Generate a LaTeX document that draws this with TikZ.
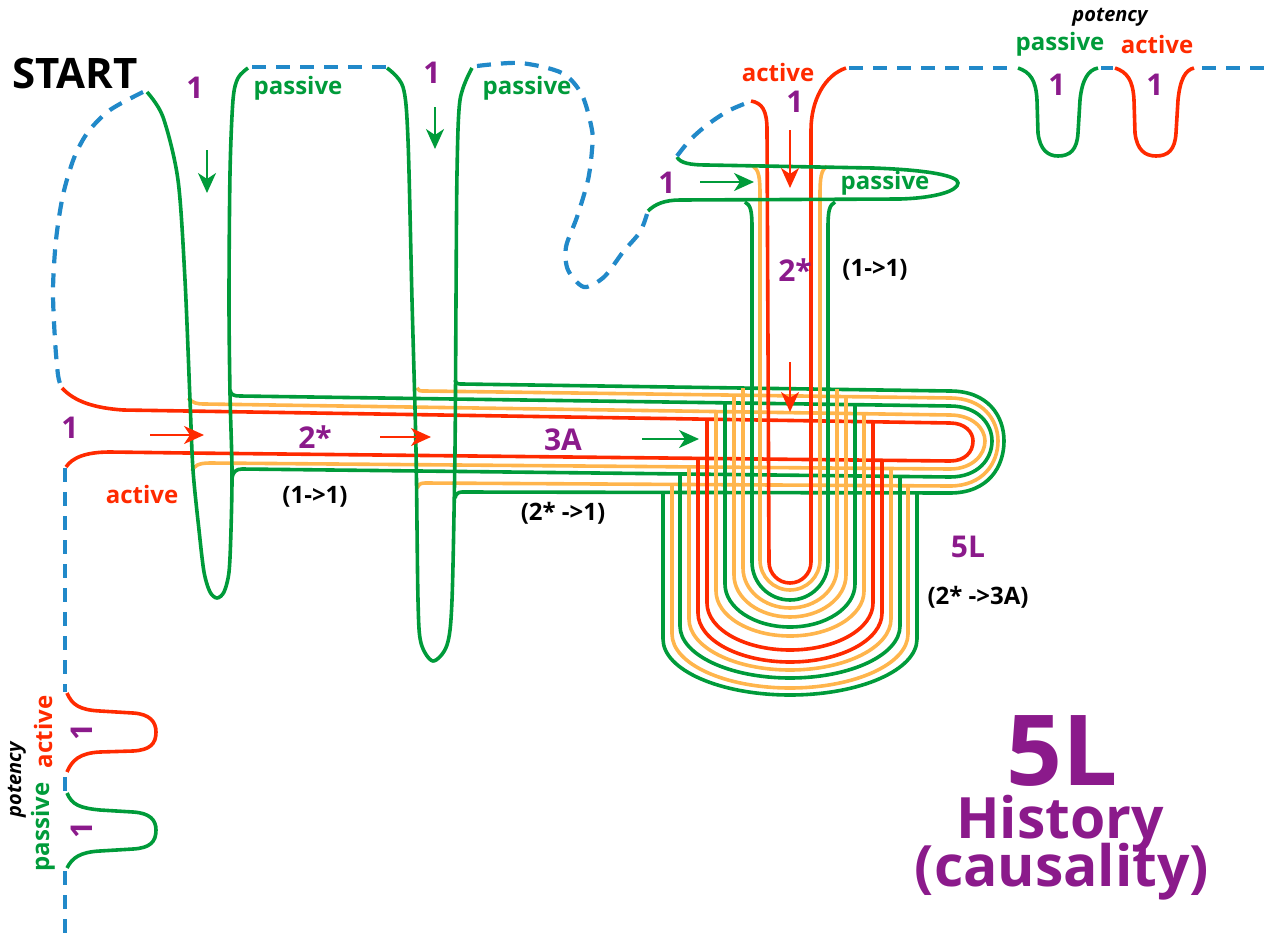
\documentclass[tikz,border=0pt]{standalone}
\usepackage{fontspec}
\setmainfont{Open Sans}
\usetikzlibrary{arrows.meta}
\definecolor{cgreen}{RGB}{0,155,58}
\definecolor{cred}{RGB}{255,42,0}
\definecolor{corange}{RGB}{255,181,76}
\definecolor{cblue}{RGB}{33,137,201}
\definecolor{cpurple}{RGB}{139,26,139}
\tikzset{
  bl/.style={draw=cblue, line width=4.2pt, dash pattern=on 14pt off 10pt},
  gr/.style={draw=cgreen, line width=3.6pt},
  rd/.style={draw=cred, line width=3.6pt},
  og/.style={draw=corange, line width=3.6pt},
  arr/.style={line width=2.4pt, -{Stealth[length=20pt,width=18pt,inset=6pt]}},
  lbl/.style={font=\fontsize{24}{26}\selectfont\bfseries, inner sep=0pt},
  num/.style={font=\fontsize{30}{32}\selectfont\bfseries, text=cpurple, inner sep=0pt},
  blk/.style={font=\fontsize{24}{26}\selectfont\bfseries, text=black, inner sep=0pt},
  pot/.style={font=\fontsize{20}{22}\selectfont\bfseries\itshape, text=black, inner sep=0pt}
}
\begin{document}
\begin{tikzpicture}[x=1pt,y=-1pt]
\useasboundingbox (0,0) rectangle (1267,937);

% ---- horizontal channel (nested hairpins) ----
\draw[rd] (62,388) .. controls (75,402) and (95,408) .. (123,410) -- (950,423)
  .. controls (965,423) and (973,432) .. (973,441) .. controls (973,452) and (965,461) .. (950,461)
  -- (187,453) -- (110,452) .. controls (85,452) and (72,458) .. (66,467);
\draw[og] (188,398) .. controls (193,403) and (196,404) .. (205,404) -- (950,415)
  .. controls (972,415) and (985,428) .. (985,441) .. controls (985,455) and (972,469) .. (950,469)
  -- (210,463) .. controls (198,463) and (194,466) .. (192,471);
\draw[gr] (230,390) .. controls (231,395) and (234,396) .. (240,396) -- (950,406)
  .. controls (978,406) and (992,424) .. (992,441) .. controls (992,459) and (978,477) .. (950,477)
  -- (242,469) .. controls (236,469) and (233,472) .. (232,478);
\draw[og] (417,388) .. controls (418,391) and (420,391) .. (425,391) -- (950,398)
  .. controls (983,398) and (998,420) .. (998,441) .. controls (998,463) and (983,486) .. (950,486)
  -- (425,483) .. controls (420,483) and (418,485) .. (417,488);
\draw[gr] (455,380) .. controls (456,384) and (458,384) .. (462,384) -- (950,391)
  .. controls (988,391) and (1004,416) .. (1004,441) .. controls (1004,467) and (988,493) .. (950,493)
  -- (462,492) .. controls (458,492) and (456,494) .. (455,498);

% ---- 5L folded U's ----
\foreach \c/\w/\yl/\yr/\yc/\h in {
  cgreen/127/492/493/639/56, corange/118/484/486/634/54, cgreen/110/474/476/626/52,
  corange/101/467/469/619/51, cred/92/458/460/613/49, cred/83/419/422/603/47,
  corange/74/412/414/591/45, cgreen/65/402/404/584/43, corange/56/395/397/575/42,
  corange/47/388/389/568/40} {
  \draw[draw=\c, line width=3.6pt] ({790-\w},\yl) -- ({790-\w},\yc)
    arc[start angle=180, end angle=0, x radius=\w, y radius=\h] -- ({790+\w},\yr);
}

% ---- vertical 2* channel ----
\draw[gr] (745,202) .. controls (751,205) and (752,212) .. (752,228) -- (752,562)
  arc[start angle=180, end angle=0, x radius=38, y radius=38] -- (828,228)
  .. controls (828,212) and (829,205) .. (835,202);
\draw[og] (753,166) .. controls (759,170) and (760,178) .. (760,195) -- (760,560)
  arc[start angle=180, end angle=0, x radius=30, y radius=30] -- (820,195)
  .. controls (820,178) and (821,170) .. (827,166);
\draw[rd] (751,101) .. controls (762,103) and (767,110) .. (767,130) -- (769,562)
  arc[start angle=180, end angle=0, x radius=21, y radius=21] -- (811,130)
  .. controls (811,100) and (825,75) .. (846,68);

% ---- passive loop (top right) ----
\draw[gr] (677,157) .. controls (680,163) and (690,165) .. (707,165) -- (873,168)
  .. controls (930,170) and (958,176) .. (958,183) .. controls (958,191) and (935,198) .. (900,199)
  -- (680,200) .. controls (665,200) and (655,204) .. (648,211);

% ---- green loops 1 and 2 ----
\draw[gr] plot[smooth] coordinates {(147,92) (163,117) (178,180) (185,280) (190,400) (193,470)
  (199,530) (204,572) (210,592) (217,598) (224,592) (229,572) (231,530) (232,470) (230,393)
  (229,300) (230,173) (233,100) (238,78) (248,68)};
\draw[gr] plot[smooth] coordinates {(387,68) (403,87) (408,140) (412,300) (416,450) (418,600)
  (421,643) (433,661) (447,645) (452,600) (455,450) (456,300) (457,173) (460,100) (472,68)};

% ---- blue dashed connections ----
\draw[bl] plot[smooth] coordinates {(143,92) (110,110) (88,132) (74,158) (63,195) (56,240)
  (53,290) (55,340) (58,375) (61,386)};
\draw[bl] (252,67) -- (386,67);
\draw[bl] plot[smooth] coordinates {(477,66) (520,63) (562,73) (582,95) (592,130) (592,150)
  (588,180) (577,217) (566,247) (568,270) (584,287) (604,277) (623,252) (640,232) (647,214)};
\draw[bl] plot[smooth] coordinates {(677,156) (690,140) (707,125) (728,111) (749,102)};
\draw[bl] (849,68) -- (1010,68);
\draw[bl] (1101,68) -- (1113,68);
\draw[bl] (1202,68) -- (1267,68);
\draw[bl] (65,468) -- (65,692);
\draw[bl] (65,777) -- (65,791);
\draw[bl] (65,871) -- (65,937);

% ---- potency wells (top right) ----
\draw[gr] (1018,68) .. controls (1030,72) and (1036,80) .. (1037,100) -- (1038,133)
  .. controls (1040,150) and (1048,156) .. (1058,156) .. controls (1070,156) and (1077,150) .. (1078,133)
  -- (1080,100) .. controls (1082,80) and (1088,70) .. (1098,68);
\draw[rd] (1115,68) .. controls (1127,72) and (1133,80) .. (1134,100) -- (1135,133)
  .. controls (1137,150) and (1145,156) .. (1156,156) .. controls (1168,156) and (1175,150) .. (1176,133)
  -- (1178,100) .. controls (1180,80) and (1185,70) .. (1194,68);

% ---- potency wells (bottom left) ----
\draw[rd] (67,693) .. controls (72,705) and (80,710) .. (100,711) -- (133,713)
  .. controls (150,714) and (156,722) .. (156,732) .. controls (156,744) and (150,750) .. (133,751)
  -- (100,752) .. controls (80,753) and (72,760) .. (67,772);
\draw[gr] (67,793) .. controls (72,805) and (80,808) .. (100,810) -- (133,812)
  .. controls (150,813) and (156,820) .. (156,830) .. controls (156,842) and (150,848) .. (133,849)
  -- (100,851) .. controls (80,852) and (72,858) .. (67,868);

% ---- arrows ----
\coordinate (a1s) at (150,435); \coordinate (a1e) at (204,435);
\coordinate (a2s) at (380,437); \coordinate (a2e) at (431,437);
\coordinate (a3s) at (642,439); \coordinate (a3e) at (699,439);
\coordinate (a4s) at (207,150); \coordinate (a4e) at (207,193);
\coordinate (a5s) at (435,107); \coordinate (a5e) at (435,149);
\coordinate (a6s) at (700,182); \coordinate (a6e) at (754,182);
\coordinate (a7s) at (790,130); \coordinate (a7e) at (790,188);
\coordinate (a8s) at (790,362); \coordinate (a8e) at (790,412);
\draw[arr, cred] (a1s) -- (a1e);
\draw[arr, cred] (a2s) -- (a2e);
\draw[arr, cgreen] (a3s) -- (a3e);
\draw[arr, cgreen] (a4s) -- (a4e);
\draw[arr, cgreen] (a5s) -- (a5e);
\draw[arr, cgreen] (a6s) -- (a6e);
\draw[arr, cred] (a7s) -- (a7e);
\draw[arr, cred] (a8s) -- (a8e);

% ---- labels ----
\node[font=\fontsize{42}{44}\selectfont\bfseries, inner sep=0pt] (start) at (75,73) {START};
\node[num] (n1) at (195,88) {1};
\node[lbl, text=cgreen] (p1) at (298,88) {passive};
\node[num] (n2) at (432,73) {1};
\node[lbl, text=cgreen] (p2) at (527,88) {passive};
\node[num] (n3) at (70,428) {1};
\node[num] (s1) at (315,437) {2*};
\node[num] (s2) at (563,440) {3A};
\node[lbl, text=cred] (ac1) at (142,494) {active};
\node[blk] (b1) at (315,497) {(1->1)};
\node[blk] (b2) at (563,513) {(2* ->1)};
\node[num] (n4) at (667,183) {1};
\node[lbl, text=cgreen] (p3) at (885,183) {passive};
\node[lbl, text=cred] (ac2) at (778,72) {active};
\node[num] (n5) at (795,102) {1};
\node[num] (s3) at (795,270) {2*};
\node[blk] (b3) at (875,270) {(1->1)};
\node[num] (s4) at (968,547) {5L};
\node[blk] (b4) at (978,597) {(2* ->3A)};
\node[pot] (pt1) at (1110,17) {potency};
\node[lbl, text=cgreen] (p4) at (1060,44) {passive};
\node[lbl, text=cred] (ac3) at (1157,44) {active};
\node[num] (n6) at (1057,85) {1};
\node[num] (n7) at (1155,85) {1};
\node[lbl, text=cred, rotate=90] (ac4) at (43,732) {active};
\node[lbl, text=cgreen, rotate=90] (p5) at (43,827) {passive};
\node[pot, rotate=90] (pt2) at (17,780) {potency};
\node[num, rotate=90] (n8) at (82,732) {1};
\node[num, rotate=90] (n9) at (82,830) {1};
\node[font=\fontsize{98}{98}\selectfont\bfseries, text=cpurple, inner sep=0pt,
  anchor=base, text height=70pt, text depth=0pt] (big) at (1062,785) {5L};
\node[font=\fontsize{57}{60}\selectfont\bfseries, text=cpurple, inner sep=0pt,
  anchor=base, text height=42pt, text depth=0pt] (hist) at (1060,838) {History};
\node[font=\fontsize{57}{60}\selectfont\bfseries, text=cpurple, inner sep=0pt,
  anchor=base, text height=41pt, text depth=12pt] (caus) at (1062,886) {(causality)};
\end{tikzpicture}
\end{document}
